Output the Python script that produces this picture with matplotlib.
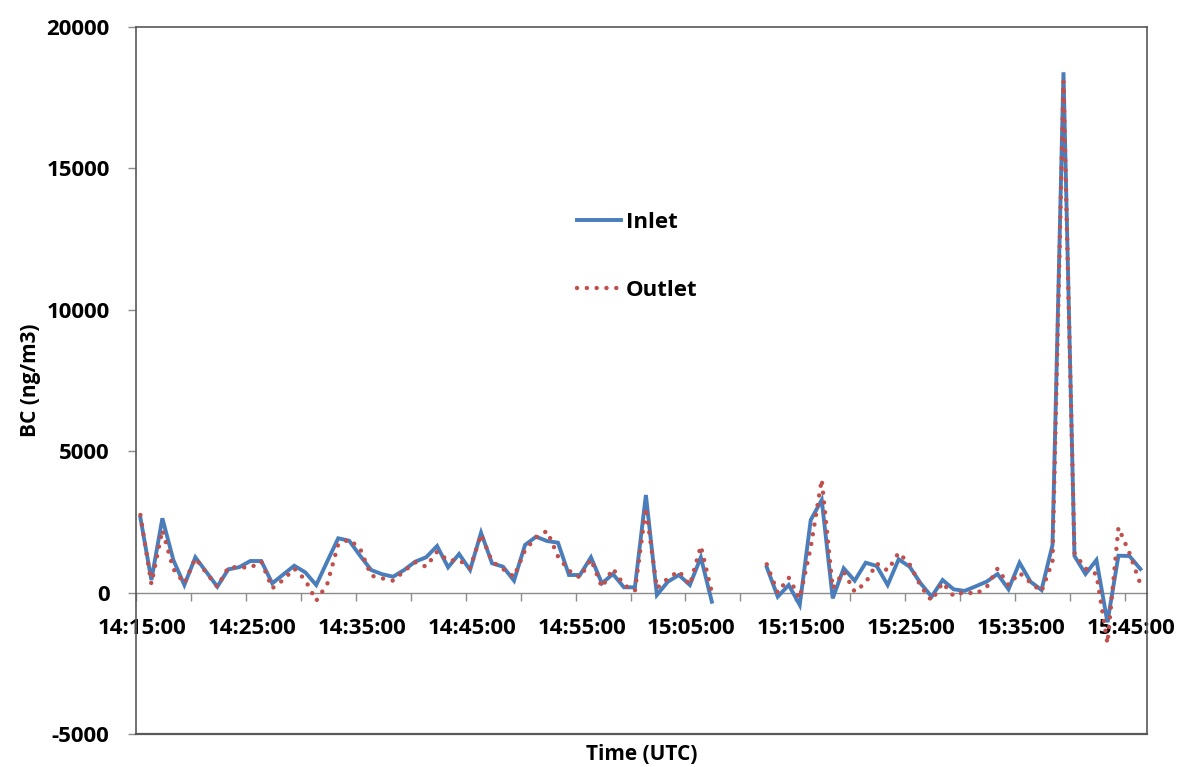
import numpy as np
import pandas as pd
import matplotlib
matplotlib.use("Agg")
import matplotlib.pyplot as plt
import matplotlib.dates as mdates
from matplotlib.transforms import ScaledTranslation

plt.rcParams['font.family'] = ['Open Sans', 'DejaVu Sans']

# ---- data -----------------------------------------------------------
start_time = "2000-01-01 14:15:24"
n_points = 92
times = pd.date_range(start_time, periods=n_points, freq="1min")

nan = np.nan
inlet = [2650, 445, 2627, 1150, 270, 1248, 730, 209, 823, 900,
         1117, 1117, 328, 640, 951, 718, 269, 1100, 1920, 1835,
         1300, 800, 650, 562, 800, 1093, 1248, 1648, 894, 1365,
         800, 2118, 1036, 916, 421, 1683, 1977, 1824, 1765, 622,
         622, 1248, 328, 657, 187, 187, 3451, -85, 386, 622,
         269, 1248, -322, nan, nan, nan, nan, 894, -145, 269,
         -438, 2567, 3274, -203, 859, 421, 1057, 941, 269, 1177,
         916, 328, -145, 445, 117, 60, 220, 386, 657, 117,
         1057, 386, 92, 1683, 18400, 1294, 657, 1153, -1050, 1305,
         1294, 834]

outlet = [2744, 304, 2213, 834, 328, 1213, 700, 209, 890, 900,
          880, 1100, 152, 450, 850, 450, -290, 300, 1700, 1880,
          1550, 600, 505, 421, 760, 1071, 916, 1446, 1128, 1153,
          870, 2050, 1100, 834, 562, 1500, 1950, 2180, 1280, 780,
          530, 1180, 187, 850, 270, 60, 3000, 152, 500, 764,
          269, 1648, 0, nan, nan, nan, nan, 1000, 0, 527,
          -200, 1600, 4000, 150, 739, 30, 350, 1030, 780, 1411,
          1000, 233, -286, 350, -120, 30, -50, 187, 850, 269,
          700, 350, 40, 1100, 18100, 1400, 850, 650, -1800, 2300,
          1400, 300]

y_ticks = [-5000, 0, 5000, 10000, 15000, 20000]
x_start = "2000-01-01 14:15:00"
x_end = "2000-01-01 15:47:00"

# ---- figure ---------------------------------------------------------
fig = plt.figure(figsize=(11.83, 7.67), dpi=100)
ax = fig.add_axes([136 / 1183, 1 - 734 / 767, (1147 - 136) / 1183, (734 - 27) / 767])

ax.plot(times, inlet, color="#4a7ebb", lw=2.8, label="Inlet", zorder=3,
        solid_joinstyle="miter")
ax.plot(times, outlet, color="#c0504d", lw=3.2, linestyle=(0, (0.01, 2.2)),
        dash_capstyle="round", label="Outlet", zorder=4)

ax.set_xlim(pd.Timestamp(x_start), pd.Timestamp(x_end))
ax.set_ylim(-5000, 20000)
ax.set_yticks(y_ticks)
ax.set_yticklabels([str(v) for v in y_ticks])

# spines: box plus x-axis at zero
for s in ["top", "right", "left"]:
    ax.spines[s].set_color("#595959")
    ax.spines[s].set_linewidth(1.2)
ax.spines["bottom"].set_position(("data", 0))
ax.spines["bottom"].set_color("#8c8c8c")
ax.spines["bottom"].set_linewidth(1.0)
ax.spines["bottom"].set_zorder(1)
ax.axhline(-5000, color="#595959", lw=1.6, clip_on=False, zorder=5)

ax.xaxis.set_major_locator(mdates.MinuteLocator(byminute=[5, 15, 25, 35, 45, 55]))
ax.xaxis.set_minor_locator(mdates.MinuteLocator(byminute=[0, 10, 20, 30, 40, 50]))
ax.xaxis.set_major_formatter(mdates.DateFormatter("%H:%M:%S"))
ax.tick_params(axis="x", which="both", direction="out", length=6, width=1,
               color="#8c8c8c", pad=12)
ax.tick_params(axis="x", which="major", labelsize=16)
ax.tick_params(axis="y", direction="out", length=6, width=1, color="#8c8c8c",
               labelsize=16, pad=13)
for lab in ax.get_xticklabels() + ax.get_yticklabels():
    lab.set_fontweight("bold")
offset = ScaledTranslation(6 / 100, 0, fig.dpi_scale_trans)
for lab in ax.get_xticklabels():
    lab.set_transform(lab.get_transform() + offset)

ax.set_ylabel("BC (ng/m3)", fontsize=15, fontweight="bold", labelpad=4)
ax.set_xlabel("Time (UTC)", fontsize=15, fontweight="bold", va="top")
ax.xaxis.set_label_coords(0.5, -0.014)

leg = ax.legend(loc="upper left", bbox_to_anchor=((577 - 136) / 1011, (734 - 212) / 707),
                frameon=False, prop={"size": 16, "weight": "bold"},
                handlelength=2.0, handletextpad=0.2, labelspacing=2.1,
                borderpad=0, borderaxespad=0)

fig.savefig("out.png", dpi=100)
